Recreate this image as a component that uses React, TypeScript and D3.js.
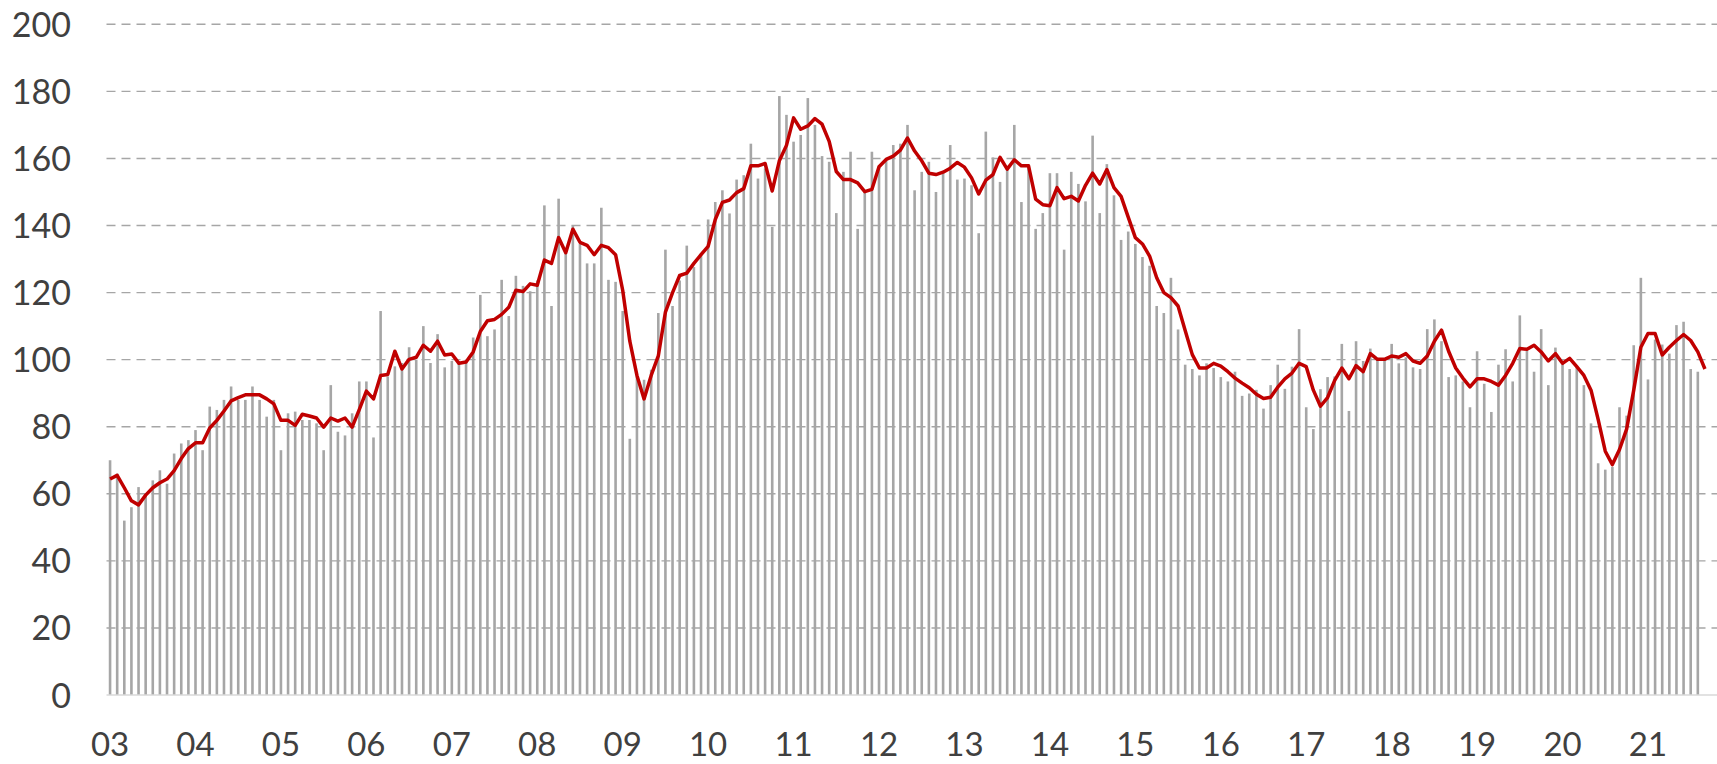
import React, { useEffect, useRef } from 'react';
import * as d3 from 'd3';

const yearLabels = ['03', '04', '05', '06', '07', '08', '09', '10', '11', '12', '13', '14', '15', '16', '17', '18', '19', '20', '21'];
const yTicks = [0, 20, 40, 60, 80, 100, 120, 140, 160, 180, 200];

// monthly values, Jan 2003 .. Aug 2021
const barValues = [
  70, 66, 52, 56, 62, 60, 64, 67, 63, 72, 75, 76,
  79, 73, 86, 85, 88, 92, 88, 88, 92, 88, 83, 88,
  73, 84, 84.5, 82, 82, 81, 73, 92.4, 78.5, 77.4, 84, 93.5,
  93.5, 76.8, 114.5, 95, 98, 99, 103.7, 100, 110, 99, 107.6, 97.7,
  99.6, 99, 100, 106.6, 119.3, 107, 109, 123.8, 113, 125, 122, 120.4,
  123.6, 146, 116, 148, 133, 140, 134.5, 128.7, 128.7, 145.3, 123.8, 123.2,
  114.5, 76.4, 95, 94, 97, 113.9, 132.8, 116, 123.6, 134, 127.6, 131.6,
  141.8, 147, 150.5, 143.6, 153.7, 155, 164.4, 154, 157, 139.6, 178.6, 173,
  165, 167, 178, 170, 160.7, 159, 143.7, 156, 162, 139, 150.5, 162,
  157.8, 160, 164, 164.4, 170, 150.5, 156, 159, 150, 155.6, 164, 153.7,
  154, 152, 137.7, 168, 160.3, 153, 157.8, 170, 147, 157.8, 139, 143.7,
  155.6, 155.6, 132.8, 156, 152.4, 147.2, 166.8, 143.7, 158.3, 149, 135.7, 138.2,
  134.5, 130.6, 128, 116, 113.9, 124.4, 109, 98.5, 97.2, 95.3, 98.9, 97.5,
  94.8, 93.5, 96.4, 89.2, 89.9, 91, 85.4, 92.4, 98.5, 91.3, 97.9, 109.1,
  85.8, 79.3, 91.2, 94.8, 95, 104.7, 84.7, 105.5, 99.6, 103.3, 100.4, 100.4,
  104.7, 98.9, 100.7, 97.7, 97.2, 109.1, 112, 105.5, 94.8, 95.3, 93.5, 85.8,
  102.5, 92.8, 84.4, 98.5, 103.1, 93.5, 113.2, 102.8, 96.4, 109.1, 92.4, 103.6,
  98.9, 97.2, 98.2, 92.4, 81, 69.1, 67.2, 68, 85.8, 83.3, 104.3, 124.4,
  94.1, 106, 104.5, 101.8, 110.3, 111.3, 97.2, 96.4,
];

// moving average line, Jan 2003 .. Sep 2021
const lineValues = [
  64.4, 65.5, 61.8, 57.9, 56.7, 59.6, 61.8, 63.3, 64.4, 66.9, 70.5, 73.5,
  75.2, 75.2, 79.6, 81.9, 84.7, 87.7, 88.7, 89.5, 89.5, 89.5, 88.3, 86.8,
  81.9, 81.9, 80.4, 83.7, 83.2, 82.6, 79.9, 82.6, 81.7, 82.6, 79.9, 85.1,
  90.6, 88.3, 95.3, 95.6, 102.5, 97.2, 100.1, 100.7, 104.3, 102.5, 105.5, 101.4,
  101.7, 98.9, 99.3, 102.3, 108.4, 111.6, 112, 113.5, 115.6, 120.7, 120.3, 122.6,
  122.2, 129.7, 128.7, 136.4, 131.9, 138.9, 135, 134.1, 131.3, 134.1, 133.4, 131.3,
  120.7, 105.5, 95.3, 88.3, 95.3, 101.1, 114.2, 120, 125.1, 125.8, 128.7, 131.3,
  133.8, 141.8, 146.9, 147.6, 149.8, 151, 157.8, 157.8, 158.5, 150.3, 159.3, 163.9,
  172.1, 168.7, 169.7, 171.9, 170.2, 165.1, 156.1, 153.7, 153.7, 152.7, 150.1, 150.8,
  157.5, 159.7, 160.7, 162.5, 166.1, 162.2, 159.3, 155.6, 155.2, 155.9, 157.1, 158.8,
  157.4, 154.2, 149.4, 153.5, 155.2, 160.3, 156.8, 159.6, 157.8, 157.8, 147.9, 146.2,
  145.9, 151.3, 148, 148.7, 147.3, 152, 155.6, 152.4, 156.7, 151.3, 148.7, 142.5,
  136.4, 134.5, 130.9, 124.4, 120, 118.5, 116, 108.7, 101.5, 97.5, 97.5, 98.9,
  98.1, 96.4, 94.5, 93, 91.6, 89.7, 88.4, 88.8, 91.8, 94.3, 96, 98.9,
  97.9, 90.9, 86.1, 88.7, 93.8, 97.5, 94.3, 98.2, 96.4, 101.8, 100.1, 100.1,
  101.1, 100.7, 101.8, 99.6, 98.9, 101.1, 105.5, 108.8, 102.5, 97.5, 94.5, 91.9,
  94.3, 94.3, 93.5, 92.4, 95.3, 98.9, 103.3, 103.1, 104.3, 102.3, 99.6, 101.8,
  98.9, 100.4, 97.9, 95.3, 90.9, 82.2, 72.7, 68.7, 73.2, 79.3, 90.9, 103.7,
  107.8, 107.8, 101.4, 103.7, 105.7, 107.5, 105.7, 102.3, 97.2,
];

const W = 1717;
const H = 764;
const PLOT = { left: 106.5, right: 1708.5, top: 24.3, bottom: 695, gridRight: 1717 };

export default function App() {
  const ref = useRef<SVGSVGElement>(null);

  useEffect(() => {
    const svg = d3.select(ref.current);
    svg.selectAll('*').remove();

    const months = d3.range(lineValues.length).map(
      (i) => `${2003 + Math.floor(i / 12)}-${(i % 12) + 1}`
    );

    const x = d3
      .scaleBand<string>()
      .domain(months)
      .range([PLOT.left, PLOT.right])
      .paddingInner(0.635)
      .paddingOuter(0.3175);

    const y = d3.scaleLinear().domain([0, 200]).range([PLOT.bottom, PLOT.top]);

    const font = 'Lato, "Open Sans", sans-serif';

    // gridlines
    svg
      .append('g')
      .selectAll('line')
      .data(yTicks.filter((t) => t > 0))
      .join('line')
      .attr('x1', PLOT.left)
      .attr('x2', PLOT.gridRight)
      .attr('y1', (d) => y(d))
      .attr('y2', (d) => y(d))
      .attr('stroke', '#a6a6a6')
      .attr('stroke-width', 1.4)
      .attr('stroke-dasharray', '9,6');

    // bars
    svg
      .append('g')
      .selectAll('rect')
      .data(barValues)
      .join('rect')
      .attr('x', (_, i) => x(months[i]) as number)
      .attr('width', x.bandwidth())
      .attr('y', (d) => y(d))
      .attr('height', (d) => y(0) - y(d))
      .attr('fill', '#a6a6a6');

    // baseline
    svg
      .append('line')
      .attr('x1', PLOT.left)
      .attr('x2', PLOT.gridRight)
      .attr('y1', y(0))
      .attr('y2', y(0))
      .attr('stroke', '#d9d9d9')
      .attr('stroke-width', 1.5);

    // line
    const lineGen = d3
      .line<number>()
      .x((_, i) => (x(months[i]) as number) + x.bandwidth() / 2)
      .y((d) => y(d));

    svg
      .append('path')
      .datum(lineValues)
      .attr('d', lineGen)
      .attr('fill', 'none')
      .attr('stroke', '#c00000')
      .attr('stroke-width', 3.5)
      .attr('stroke-linejoin', 'round');

    // y tick labels
    svg
      .append('g')
      .selectAll('text')
      .data(yTicks)
      .join('text')
      .attr('x', 71)
      .attr('y', (d) => y(d) + 12.5)
      .attr('text-anchor', 'end')
      .attr('font-family', font)
      .attr('font-size', 34)
      .attr('fill', '#404040')
      .text((d) => String(d));

    // x year labels
    svg
      .append('g')
      .selectAll('text')
      .data(yearLabels)
      .join('text')
      .attr('x', (_, i) => (x(months[i * 12]) as number) + x.bandwidth() / 2)
      .attr('y', 756)
      .attr('text-anchor', 'middle')
      .attr('font-family', font)
      .attr('font-size', 33)
      .attr('fill', '#404040')
      .text((d) => d);
  }, []);

  return (
    <svg
      ref={ref}
      width={W}
      height={H}
      style={{ position: 'absolute', left: 0, top: 0, background: '#fff' }}
    />
  );
}
